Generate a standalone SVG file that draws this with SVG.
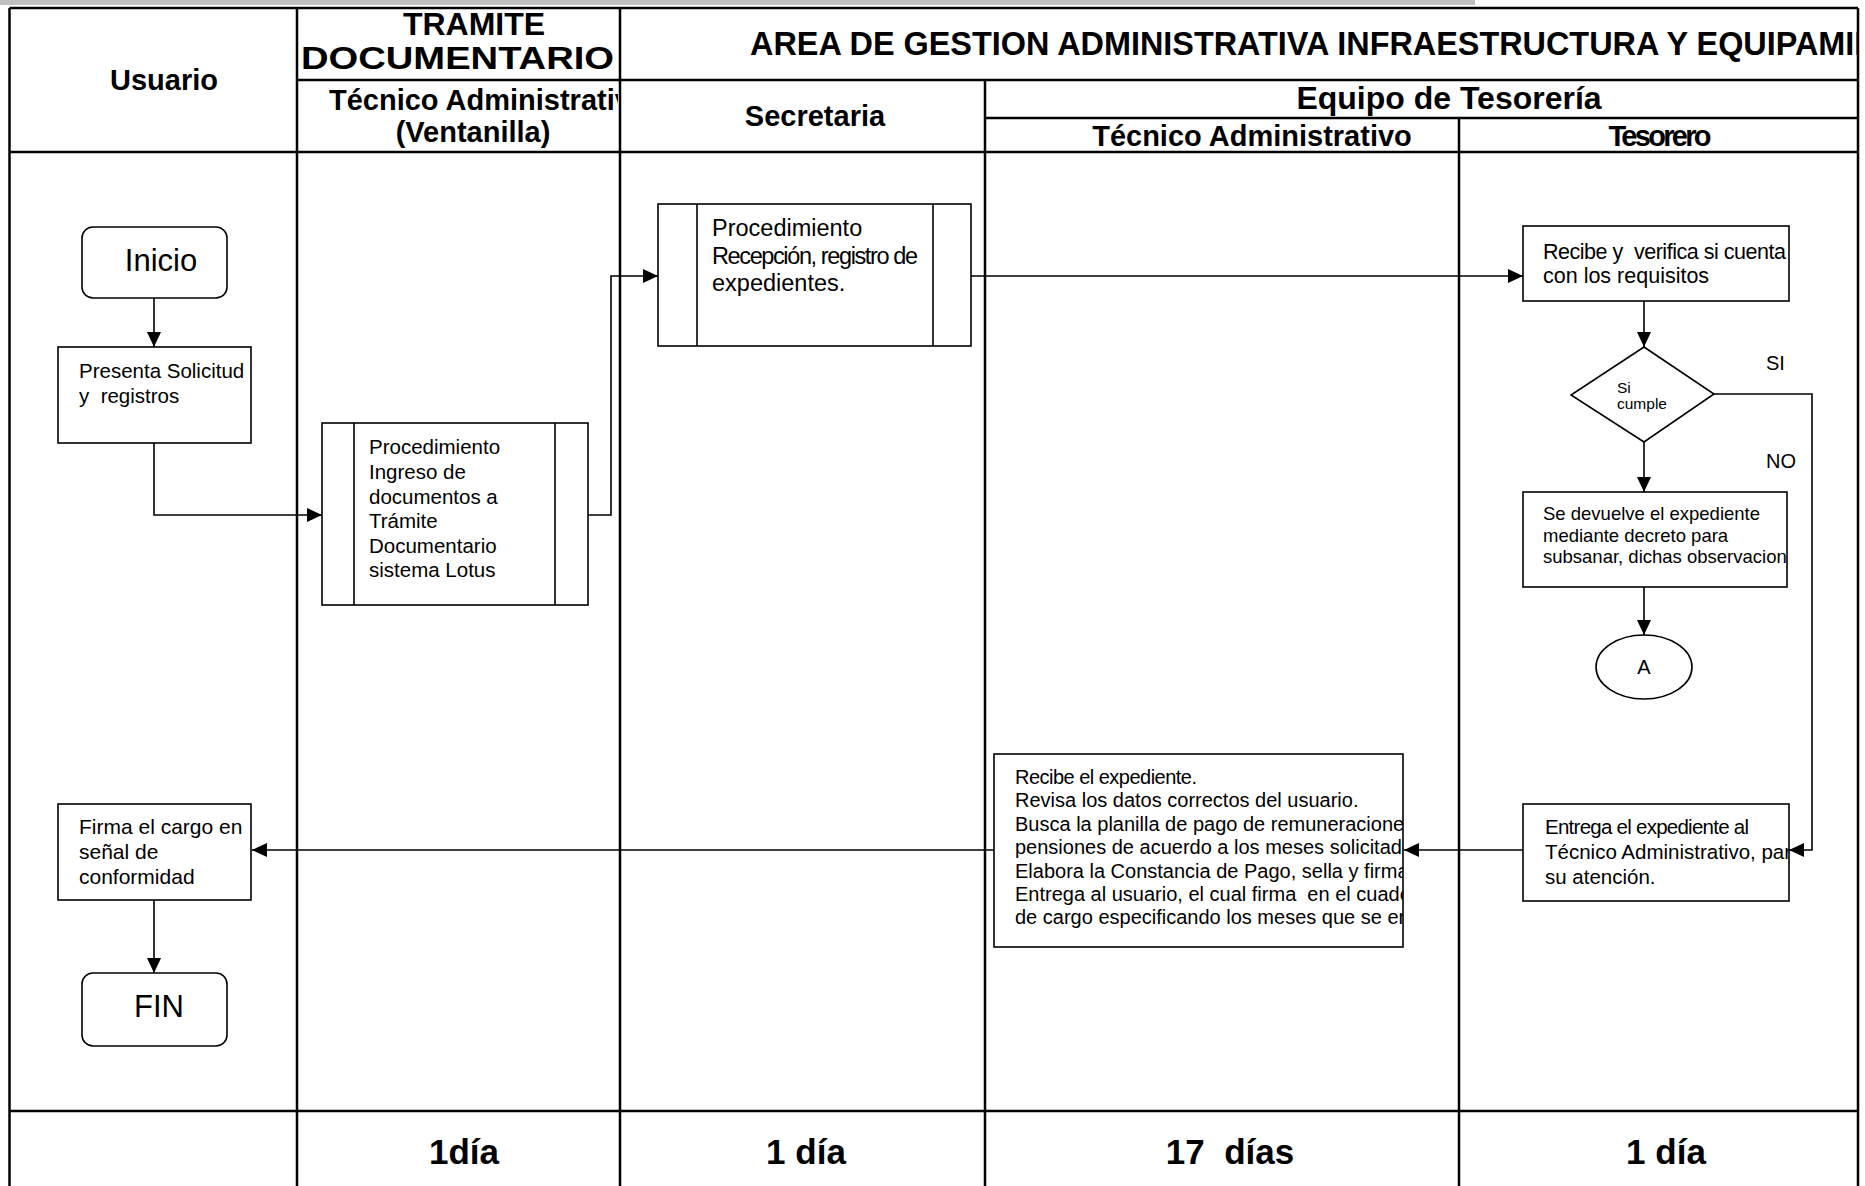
<svg xmlns="http://www.w3.org/2000/svg" width="1865" height="1186" viewBox="0 0 1865 1186">
<style>
.t{font-family:"Liberation Sans",Arial,sans-serif;fill:#000}
.h{font-weight:bold;font-size:29px}
.hb{font-weight:bold;font-size:32px}
.d{font-weight:bold;font-size:35px}
.grid{stroke:#000;stroke-width:2.5;fill:none}
.box{fill:#fff;stroke:#000;stroke-width:1.6}
.c{fill:none;stroke:#000;stroke-width:1.6}
.ca{fill:none;stroke:#000;stroke-width:1.6;marker-end:url(#arr)}
</style>
<defs>
<marker id="arr" viewBox="0 0 15 14" refX="15" refY="7" markerWidth="15" markerHeight="14" orient="auto" markerUnits="userSpaceOnUse"><path d="M0,0 L15,7 L0,14 z" fill="#000"/></marker>
<clipPath id="cArea"><rect x="620" y="8" width="1238" height="72"/></clipPath>
<clipPath id="cTec"><rect x="297" y="80" width="321" height="72"/></clipPath>
<clipPath id="cPres"><rect x="58" y="347" width="193" height="96"/></clipPath>
<clipPath id="cRec"><rect x="1523" y="226" width="266" height="75"/></clipPath>
<clipPath id="cDev"><rect x="1523" y="492" width="264" height="95"/></clipPath>
<clipPath id="cExp"><rect x="994" y="754" width="409" height="193"/></clipPath>
<clipPath id="cEnt"><rect x="1523" y="804" width="266" height="97"/></clipPath>
</defs>
<rect x="0" y="0" width="1475" height="5" fill="#c0c0c0"/>
<g id="table">
<line class="grid" x1="9.5" y1="8" x2="1858" y2="8"/>
<line class="grid" x1="9.5" y1="8" x2="9.5" y2="1186"/>
<line class="grid" x1="1858" y1="8" x2="1858" y2="1186"/>
<line class="grid" x1="297" y1="8" x2="297" y2="1186"/>
<line class="grid" x1="620" y1="8" x2="620" y2="1186"/>
<line class="grid" x1="985" y1="80" x2="985" y2="1186"/>
<line class="grid" x1="1459" y1="118" x2="1459" y2="1186"/>
<line class="grid" x1="297" y1="80" x2="1858" y2="80"/>
<line class="grid" x1="985" y1="118" x2="1858" y2="118"/>
<line class="grid" x1="9.5" y1="152" x2="1858" y2="152" stroke-width="3"/>
<line class="grid" x1="9.5" y1="1111" x2="1858" y2="1111" stroke-width="4"/>
<text class="t h" x="164" y="90" text-anchor="middle">Usuario</text>
<text class="t hb" x="474" y="35" text-anchor="middle">TRAMITE</text>
<text class="t hb" x="301" y="69" textLength="313" lengthAdjust="spacingAndGlyphs">DOCUMENTARIO</text>
<text class="t hb" x="750" y="55" style="font-size:32.4px" clip-path="url(#cArea)">AREA DE GESTION ADMINISTRATIVA INFRAESTRUCTURA Y EQUIPAMIENTO</text>
<text class="t h" x="329" y="110" clip-path="url(#cTec)">Técnico Administrativo</text>
<text class="t h" x="473" y="142" text-anchor="middle">(Ventanilla)</text>
<text class="t h" x="815" y="126" text-anchor="middle">Secretaria</text>
<text class="t hb" x="1449" y="109" text-anchor="middle">Equipo de Tesorería</text>
<text class="t h" x="1252" y="146" text-anchor="middle">Técnico Administrativo</text>
<text class="t h" x="1660" y="146" text-anchor="middle" textLength="103" lengthAdjust="spacing">Tesorero</text>
<text class="t d" x="464" y="1164" text-anchor="middle">1día</text>
<text class="t d" x="806" y="1164" text-anchor="middle">1 día</text>
<text class="t d" x="1230" y="1164" text-anchor="middle" xml:space="preserve">17  días</text>
<text class="t d" x="1666" y="1164" text-anchor="middle">1 día</text>
</g>
<g id="connectors">
<path class="ca" d="M154 298 V347"/>
<path class="ca" d="M154 443 V515 H322"/>
<path class="ca" d="M588 515 H611 V276 H658"/>
<path class="ca" d="M971 276 H1523"/>
<path class="ca" d="M1644 301 V347"/>
<path class="ca" d="M1644 442 V492"/>
<path class="ca" d="M1644 587 V635"/>
<path class="ca" d="M1714 394 H1812 V850 H1789"/>
<path class="ca" d="M1523 850 H1404"/>
<path class="ca" d="M994 850 H252"/>
<path class="ca" d="M154 900 V973"/>
</g>
<g id="inicio">
<rect class="box" x="82" y="227" width="145" height="71" rx="11"/>
<text class="t" x="161" y="271" font-size="31" text-anchor="middle">Inicio</text>
</g>
<g id="presenta">
<rect class="box" x="58" y="347" width="193" height="96"/>
<g clip-path="url(#cPres)" class="t" font-size="20.5">
<text x="79" y="378">Presenta Solicitud</text>
<text x="79" y="403" xml:space="preserve">y  registros</text>
</g>
</g>
<g id="proc-ingreso">
<rect class="box" x="322" y="423" width="266" height="182"/>
<line class="c" x1="354" y1="423" x2="354" y2="605"/>
<line class="c" x1="555" y1="423" x2="555" y2="605"/>
<g class="t" font-size="20.5">
<text x="369" y="454">Procedimiento</text>
<text x="369" y="479">Ingreso de</text>
<text x="369" y="504">documentos a</text>
<text x="369" y="528">Trámite</text>
<text x="369" y="553">Documentario</text>
<text x="369" y="577">sistema Lotus</text>
</g>
</g>
<g id="proc-recepcion">
<rect class="box" x="658" y="204" width="313" height="142"/>
<line class="c" x1="697" y1="204" x2="697" y2="346"/>
<line class="c" x1="933" y1="204" x2="933" y2="346"/>
<g class="t" font-size="23.5">
<text x="712" y="236">Procedimiento</text>
<text x="712" y="264" textLength="206" lengthAdjust="spacing">Recepción, registro de</text>
<text x="712" y="291">expedientes.</text>
</g>
</g>
<g id="recibe-verifica">
<rect class="box" x="1523" y="226" width="266" height="75"/>
<g clip-path="url(#cRec)" class="t" font-size="21.5">
<text x="1543" y="259" xml:space="preserve" textLength="243" lengthAdjust="spacing">Recibe y  verifica si cuenta</text>
<text x="1543" y="283">con los requisitos</text>
</g>
</g>
<g id="decision">
<polygon class="box" points="1644,347 1714,394 1644,442 1571,395"/>
<text class="t" x="1617" y="393" font-size="15.5">Si</text>
<text class="t" x="1617" y="409" font-size="15.5">cumple</text>
<text class="t" x="1766" y="370" font-size="20">SI</text>
<text class="t" x="1766" y="468" font-size="20">NO</text>
</g>
<g id="devuelve">
<rect class="box" x="1523" y="492" width="264" height="95"/>
<g clip-path="url(#cDev)" class="t" font-size="18.5">
<text x="1543" y="520">Se devuelve el expediente</text>
<text x="1543" y="542">mediante decreto para</text>
<text x="1543" y="563">subsanar, dichas observaciones</text>
</g>
</g>
<g id="conector-a">
<ellipse class="box" cx="1644" cy="667" rx="48" ry="32"/>
<text class="t" x="1644" y="674" font-size="20" text-anchor="middle">A</text>
</g>
<g id="entrega">
<rect class="box" x="1523" y="804" width="266" height="97"/>
<g clip-path="url(#cEnt)" class="t" font-size="20.5">
<text x="1545" y="834" textLength="204" lengthAdjust="spacing">Entrega el expediente al</text>
<text x="1545" y="859">Técnico Administrativo, para</text>
<text x="1545" y="884">su atención.</text>
</g>
</g>
<g id="recibe-expediente">
<rect class="box" x="994" y="754" width="409" height="193"/>
<g clip-path="url(#cExp)" class="t" font-size="20">
<text x="1015" y="784" textLength="182" lengthAdjust="spacing">Recibe el expediente.</text>
<text x="1015" y="807.4">Revisa los datos correctos del usuario.</text>
<text x="1015" y="830.8">Busca la planilla de pago de remuneraciones y</text>
<text x="1015" y="854.2">pensiones de acuerdo a los meses solicitados.</text>
<text x="1015" y="877.6">Elabora la Constancia de Pago, sella y firma.</text>
<text x="1015" y="901" xml:space="preserve">Entrega al usuario, el cual firma  en el cuaderno</text>
<text x="1015" y="924.4">de cargo especificando los meses que se entregan.</text>
</g>
</g>
<g id="firma">
<rect class="box" x="58" y="804" width="193" height="96"/>
<g class="t" font-size="21">
<text x="79" y="834">Firma el cargo en</text>
<text x="79" y="859">señal de</text>
<text x="79" y="884">conformidad</text>
</g>
</g>
<g id="fin">
<rect class="box" x="82" y="973" width="145" height="73" rx="11"/>
<text class="t" x="159" y="1017" font-size="31" text-anchor="middle">FIN</text>
</g>
</svg>
